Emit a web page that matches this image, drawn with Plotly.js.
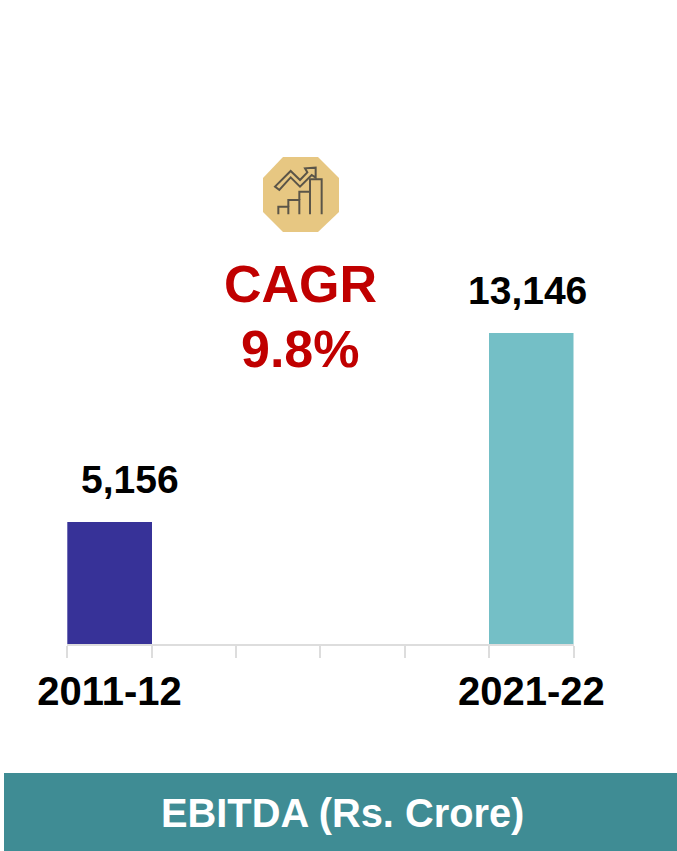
<!DOCTYPE html>
<html>
<head>
<meta charset="utf-8">
<script src="https://cdn.plot.ly/plotly-3.0.1.min.js"></script>
<style>html,body{margin:0;padding:0;background:#fff;overflow:hidden}#chart{width:677px;height:851px}</style>
</head>
<body>
<div id="chart"></div>
<script>
const categories = ['2011-12', ' ', '  ', '   ', '    ', '2021-22'];
const values = [5156, null, null, null, null, 13146];
const barColors = ['#373298', '#fff', '#fff', '#fff', '#fff', '#74bfc6'];
const labelShift = [21, 0, 0, 0, 0, -4];
const cagrLines = ['CAGR', '9.8%'];
const bannerText = 'EBITDA (Rs. Crore)';

const W = 677, H = 851;
const FONT = '"Liberation Sans", Arial, sans-serif';
const px = x => x / W;
const py = y => 1 - y / H;
const path = (pts, close) => 'M' + pts.map(p => px(p[0]).toFixed(5) + ',' + py(p[1]).toFixed(5)).join(' L') + (close ? ' Z' : '');
const zoomPt = p => [250 + p[0] / 3, 145 + p[1] / 3];
const iconLine = '#5b5548';

const octagon = [[283,157],[318,157],[339,178],[339,212],[318,232],[283,232],[263,212],[263,178]];
const stairs = [[85,208],[85,185],[115,185],[115,208]];
const stairs2 = [[115,185],[115,165],[148,165],[148,208]];
const stairs3 = [[148,165],[148,140],[180,140],[180,208]];
const stairs4 = [[180,140],[180,103],[215,103],[215,208]];
const arrow = [[75,125],[122,78],[150,105],[172,82],[165,70],[197,68],[197,98],[185,90],[150,125],[122,97],[88,135]];

const shape = (d, extra) => Object.assign({type:'path', xref:'paper', yref:'paper', path:d, layer:'above'}, extra);
const iconStroke = {fillcolor:'rgba(0,0,0,0)', line:{color:iconLine, width:2}};

const shapes = [
  {type:'rect', xref:'paper', yref:'paper', x0:px(4), x1:1, y0:0, y1:py(773), fillcolor:'#3f8c94', line:{width:0}, layer:'below'},
  shape(path(octagon, true), {fillcolor:'#e7c782', line:{width:0}}),
  shape(path(stairs.map(zoomPt)), iconStroke),
  shape(path(stairs2.map(zoomPt)), iconStroke),
  shape(path(stairs3.map(zoomPt)), iconStroke),
  shape(path(stairs4.map(zoomPt)), iconStroke),
  shape(path(arrow.map(zoomPt), true), iconStroke)
];

const annotations = [];
categories.forEach((c, i) => {
  if (values[i] == null) return;
  annotations.push({
    x: c, y: values[i], xref:'x', yref:'y', yanchor:'bottom', yshift: 19, xshift: labelShift[i], showarrow:false,
    text: values[i].toLocaleString('en-US'),
    font:{family:FONT, size:39, color:'#000', weight:700}
  });
});
cagrLines.forEach((t, i) => annotations.push({
  x: px(300), y: py(284 + i * 65), xref:'paper', yref:'paper', xanchor:'center', yanchor:'middle', showarrow:false,
  text: t, font:{family:FONT, size:52, color:'#c00000', weight:700}
}));
annotations.push({
  x: px(342), y: py(813), xref:'paper', yref:'paper', xanchor:'center', yanchor:'middle', showarrow:false,
  text: bannerText, font:{family:FONT, size:39.8, color:'#fff', weight:700}
});

Plotly.newPlot('chart', [{
  type:'bar', x:categories, y:values, width:1,
  marker:{color:barColors, line:{width:0}},
  hoverinfo:'skip'
}], {
  width:W, height:H, margin:{l:0,r:0,t:0,b:0,pad:0},
  paper_bgcolor:'#fff', plot_bgcolor:'#fff', showlegend:false, bargap:0,
  xaxis:{
    domain:[px(67.3), px(573.5)], type:'category', categoryorder:'array', categoryarray:categories,
    range:[-0.5, 5.5], fixedrange:true, tickson:'boundaries', ticks:'outside', ticklen:12, tickwidth:2, tickcolor:'#dddddd',
    showline:true, linecolor:'#dddddd', linewidth:2, showgrid:false, zeroline:false,
    tickfont:{family:FONT, size:40, color:'#000', weight:700}, ticklabelstandoff:11, tickangle:0
  },
  yaxis:{
    domain:[py(644), py(100)], range:[0, 23000], visible:false, showgrid:false, zeroline:false, fixedrange:true
  },
  shapes, annotations
}, {displayModeBar:false, staticPlot:true});
</script>
</body>
</html>
